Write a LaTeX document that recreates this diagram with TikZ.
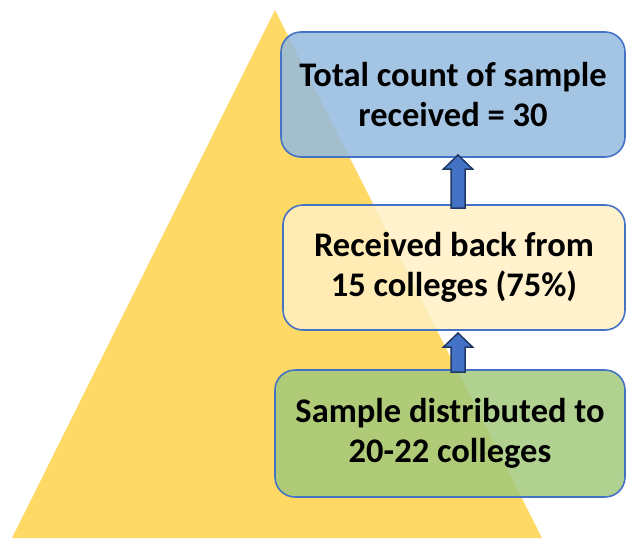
\documentclass[tikz,border=0pt]{standalone}
\usepackage{fontspec}
\setmainfont{Carlito}
\usetikzlibrary{calc}
\definecolor{tri}{RGB}{255,217,102}
\definecolor{bluebox}{RGB}{148,186,223}
\definecolor{creambox}{RGB}{255,240,195}
\definecolor{greenbox}{RGB}{162,201,123}
\definecolor{edgeblue}{RGB}{68,114,196}
\definecolor{arrfill}{RGB}{68,114,196}
\definecolor{arredge}{RGB}{32,56,100}
\tikzset{
  stagebox/.style={draw=edgeblue, line width=1.6pt, rounded corners=20pt,
    fill opacity=0.85, text opacity=1, align=center,
    font=\fontsize{34.5}{40}\selectfont\bfseries, inner sep=0pt},
  blockarrow/.style={fill=arrfill, draw=arredge, line width=1.5pt, line join=miter}
}
\begin{document}
\begin{tikzpicture}[x=1pt,y=-1pt]
\useasboundingbox (0,0) rectangle (626,538);
% triangle
\fill[tri] (275,10) -- (542,538) -- (12,538) -- cycle;
% boxes
\node[stagebox, fill=bluebox, minimum width=344pt, minimum height=125pt] (top) at (453,94.5)
  {Total count of sample\\received = 30};
\node[stagebox, fill=creambox, minimum width=342pt, minimum height=125pt] (mid) at (454,267.5)
  {Received back from\\15 colleges (75\%)};
\node[stagebox, fill=greenbox, minimum width=350pt, minimum height=127pt] (bot) at (450,433.5)
  {Sample distributed to\\20-22 colleges};
% arrows
\coordinate (a1tail) at (458,208);
\coordinate (a1tip) at (458,155);
\coordinate (a2tail) at (458,372);
\coordinate (a2tip) at (458,333);
\draw[blockarrow] ($(a1tail)+(-7,0)$) -- ($(a1tip)+(-7,14)$) -- ($(a1tip)+(-14.5,14)$) -- (a1tip)
  -- ($(a1tip)+(14.5,14)$) -- ($(a1tip)+(7,14)$) -- ($(a1tail)+(7,0)$) -- cycle;
\draw[blockarrow] ($(a2tail)+(-7,0)$) -- ($(a2tip)+(-7,14)$) -- ($(a2tip)+(-14.5,14)$) -- (a2tip)
  -- ($(a2tip)+(14.5,14)$) -- ($(a2tip)+(7,14)$) -- ($(a2tail)+(7,0)$) -- cycle;
\end{tikzpicture}
\end{document}
